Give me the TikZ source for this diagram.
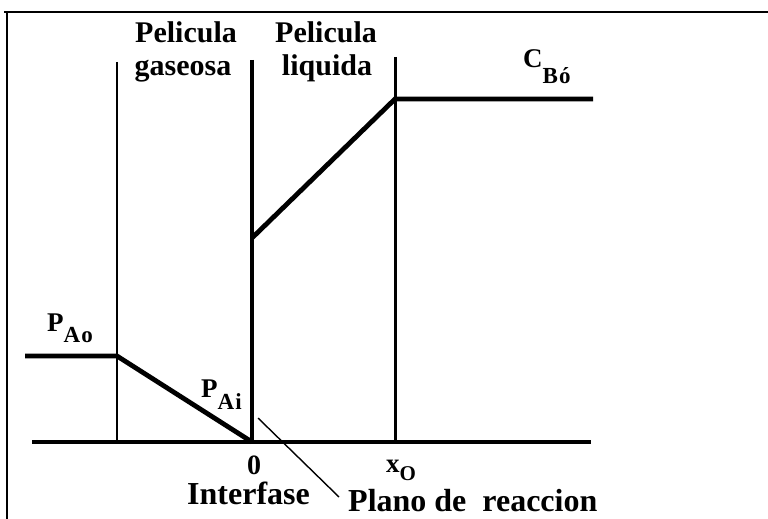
\documentclass[tikz,border=0pt]{standalone}
\usepackage{fontspec}
\setmainfont{Liberation Serif}
\newcommand\subt[3]{\raisebox{#1}{\fontsize{#2}{#2}\selectfont #3}}
\begin{document}
\begin{tikzpicture}[x=1pt,y=-1pt,
  thin line/.style={line width=2.4pt},
  mid line/.style={line width=3pt},
  thick line/.style={line width=4.8pt},
  frame line/.style={line width=1.8pt},
  lbl/.style={inner sep=0pt,anchor=base,font=\fontsize{30}{30}\selectfont\bfseries},
  sym/.style={inner sep=0pt,anchor=base west,font=\fontsize{27}{27}\selectfont\bfseries},
  big/.style={inner sep=0pt,anchor=base west,font=\fontsize{32}{32}\selectfont\bfseries}]
\useasboundingbox (0,0) rectangle (768,519);
% frame
\draw[frame line] (4,12) -- (768,12);
\draw[frame line] (7,12) -- (7,519);
% coordinates
\coordinate (b0) at (32,442);
\coordinate (b1) at (591,442);
\coordinate (g0) at (117,62);
\coordinate (g1) at (117,442);
\coordinate (i0) at (252,60);
\coordinate (i1) at (252,442);
\coordinate (l0) at (395,57);
\coordinate (l1) at (395,442);
\coordinate (pa0) at (25,356);
\coordinate (pa1) at (117,356);
\coordinate (c0) at (252,238);
\coordinate (c1) at (395,99);
\coordinate (c2) at (593,99);
\coordinate (r0) at (258,418);
\coordinate (r1) at (339,497);
% lines
\draw[thick line] (b0) -- (b1);
\draw[thin line] (g0) -- (g1);
\draw[thick line, line width=4.2pt] (i0) -- (i1);
\draw[mid line] (l0) -- (l1);
\draw[thick line] (pa0) -- (pa1) -- (i1);
\draw[thick line, line join=miter] (c0) -- (c1) -- (c2);
\draw[line width=1.4pt] (r0) -- (r1);
% labels
\node[lbl] (gas1) at (186,43) {Pelicula};
\node[lbl] (gas2) at (183,75) {gaseosa};
\node[lbl] (liq1) at (326,43) {Pelicula};
\node[lbl] (liq2) at (327,75) {liquida};
\node[sym] (pao) at (47,331) {P\subt{-11pt}{23}{A\kern1pt o}};
\node[sym] (pai) at (201,397) {P\subt{-12pt}{23}{A\kern1pt i}};
\node[sym] (cbo) at (523,67) {C\subt{-16pt}{23}{B\kern1pt ó}};
\node[sym] (xo) at (386,472) {x\subt{-8pt}{21}{O}};
\node[inner sep=0pt,anchor=base,font=\fontsize{28}{28}\selectfont\bfseries] (zero) at (254,474) {0};
\node[big] (int) at (187,504) {Interfase};
\node[big] (pla) at (348,511) {Plano de\ \ reaccion};
\end{tikzpicture}
\end{document}
